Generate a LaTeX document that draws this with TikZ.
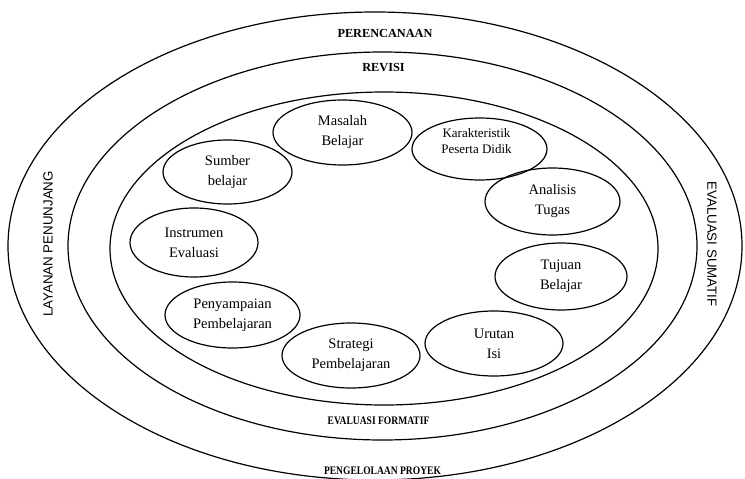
\documentclass[tikz,border=0pt]{standalone}
\usepackage{fontspec}
\setmainfont{Liberation Serif}
\setsansfont{Liberation Sans}
\usetikzlibrary{shapes.geometric}

\newcommand{\narrowcaps}[1]{\scalebox{0.83}[1]{#1}}

\begin{document}
\begin{tikzpicture}[
  x=1pt,y=-1pt,
  ring/.style={draw,line width=1.2pt},
  topic/.style={draw,ellipse,line width=1.2pt,inner sep=0pt,align=center,
    font=\fontsize{14.5}{20}\selectfont},
  layer/.style={font=\bfseries\fontsize{12.3}{13}\selectfont},
  sublayer/.style={font=\bfseries\fontsize{11.5}{12}\selectfont},
  side/.style={font=\sffamily\fontsize{13.3}{14}\selectfont}
]
\useasboundingbox (0,0) rectangle (745,479);

% rings
\draw[ring] (375,246) ellipse (367 and 234);
\draw[ring] (382.5,246) ellipse (314.5 and 194);
\draw[ring] (384,248.5) ellipse (274 and 156.5);

% ring labels
\node[layer] (perencanaan) at (385,33.5) {PERENCANAAN};
\node[layer] (revisi) at (383.5,67.5) {REVISI};
\node[sublayer] (formatif) at (378.5,421) {\narrowcaps{EVALUASI FORMATIF}};
\node[sublayer] (proyek) at (382.5,471) {\narrowcaps{PENGELOLAAN PROYEK}};
\node[side,rotate=90] (penunjang) at (48,244) {LAYANAN PENUNJANG};
\node[side,rotate=-90] (sumatif) at (712,244) {EVALUASI SUMATIF};

% components
\node[topic,minimum width=139pt,minimum height=65pt] (masalah) at (342.5,132.5) {Masalah\\Belajar};
\node[topic,minimum width=135pt,minimum height=62pt] (karakteristik) at (479.5,149) {};
\node[font=\fontsize{13}{16}\selectfont,align=center] (pesertatext) at ([xshift=-3pt,yshift=8pt]karakteristik.center) {Karakteristik\\Peserta Didik};
\node[topic,minimum width=129pt,minimum height=64pt] (sumber) at (227.5,172) {Sumber\\belajar};
\node[topic,minimum width=135pt,minimum height=67pt] (analisis) at (552.5,201.5) {Analisis\\Tugas};
\node[topic,minimum width=128pt,minimum height=69pt] (instrumen) at (194,242.5) {Instrumen\\Evaluasi};
\node[topic,minimum width=132pt,minimum height=67pt] (tujuan) at (561,276.5) {Tujuan\\Belajar};
\node[topic,minimum width=135pt,minimum height=66pt] (penyampaian) at (232.5,315) {Penyampaian\\Pembelajaran};
\node[topic,minimum width=138pt,minimum height=65pt] (urutan) at (494,343.5) {Urutan\\Isi};
\node[topic,minimum width=138pt,minimum height=65pt] (strategi) at (351,355.5) {Strategi\\Pembelajaran};

\end{tikzpicture}
\end{document}
